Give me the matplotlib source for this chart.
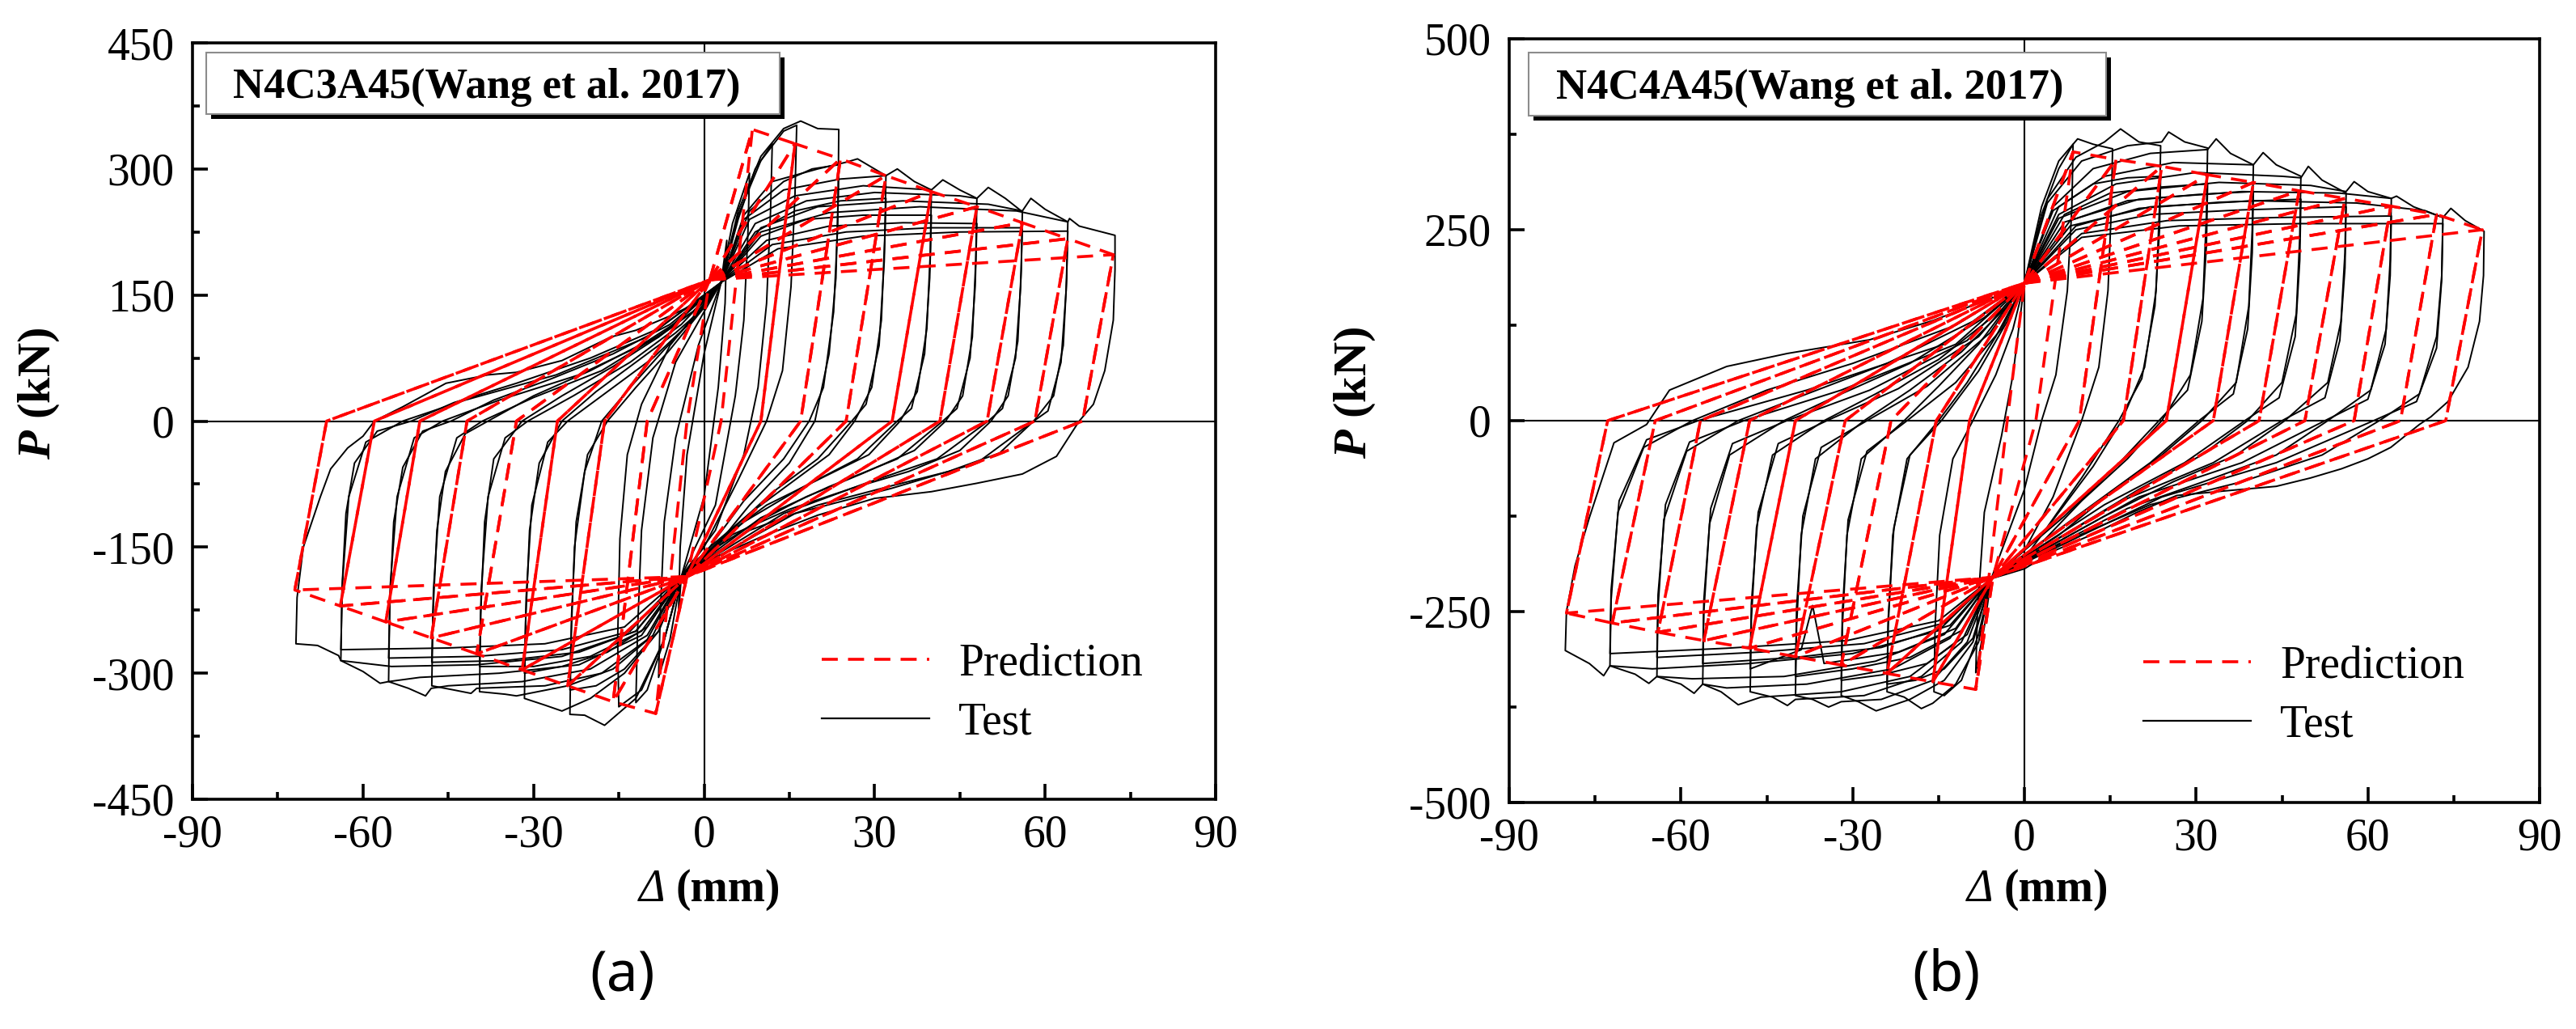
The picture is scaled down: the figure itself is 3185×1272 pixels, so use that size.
#!/usr/bin/env python3
"""
Hysteresis curves: test vs. prediction for N4C3A45 / N4C4A45 (Wang et al. 2017)
"""
import matplotlib
matplotlib.use('Agg')
import matplotlib.pyplot as plt
from matplotlib.lines import Line2D
from matplotlib.patches import Rectangle
from matplotlib.ticker import MultipleLocator

plt.rcParams['font.family'] = ['Liberation Serif', 'DejaVu Serif']
plt.rcParams['axes.unicode_minus'] = False
plt.rcParams['mathtext.fontset'] = 'custom'
plt.rcParams['mathtext.rm'] = 'Liberation Serif'
plt.rcParams['mathtext.bf'] = 'Liberation Serif:bold'
plt.rcParams['mathtext.it'] = 'Liberation Serif:italic'
plt.rcParams['mathtext.bfit'] = 'Liberation Serif:italic:bold'

# ---------------- panel (a): N4C3A45 ----------------
# test loops, first cycle at each amplitude (Δ mm, P kN)
a_test_first = [
    [(3, 165), (4, 215), (3.7, 140), (2.5, 40), (0, -90), (-4, -185), (-4.5, -230), (-4.2, -150), (-3, -40), (0, 80), (3, 165)],
    [(3, 165), (5, 235), (8, 295), (7.7, 220), (7, 120), (5.5, 30), (2, -100), (-4, -185), (-6, -260), (-8, -305),
     (-7.7, -230), (-7, -120), (-5, -20), (-1, 90), (3, 165)],
    [(3, 165), (6, 240), (9, 300), (12, 330), (11.7, 250), (11, 140), (9.5, 40), (7, -40), (2, -130), (-4, -185),
     (-7, -260), (-10, -320), (-12, -335), (-11.7, -250), (-11, -130), (-9, -20), (-5, 70), (0, 130), (3, 165)],
    [(3, 165), (6, 245), (10, 310), (14, 345), (16.3, 352), (16, 270), (15.3, 160), (13.8, 60), (11, 0), (6, -70),
     (0, -150), (-4, -185), (-7, -260), (-11, -320), (-15, -340), (-15.2, -260), (-14.8, -140), (-13.5, -40),
     (-11, 20), (-6, 90), (0, 140), (3, 165)],
    [(3, 165), (6, 250), (10, 315), (14, 348), (17, 357), (20, 348), (23.7, 347), (23.6, 270), (23.2, 170), (22, 80),
     (19.5, 0), (15, -50), (8, -100), (2, -150), (-4, -185), (-7, -260), (-12, -330), (-17.5, -362), (-21, -350),
     (-23.6, -349), (-23.4, -260), (-22.8, -150), (-21, -60), (-18, 0), (-13, 40), (-7, 85), (0, 135), (3, 165)],
    [(3, 165), (7, 245), (12, 285), (20, 300), (25, 308), (27, 312), (30, 300), (32, 292), (31.8, 220), (31.2, 120),
     (29.5, 40), (26.5, 0), (22, -40), (15, -75), (8, -110), (1, -150), (-4, -185), (-8, -250), (-14, -300),
     (-20, -330), (-25, -345), (-28, -338), (-31.6, -330), (-31.4, -240), (-30.7, -130), (-29, -50), (-25, 0),
     (-19, 35), (-12, 70), (-5, 105), (0, 135), (3, 165)],
    [(3, 165), (7, 240), (14, 275), (24, 288), (32, 292), (34, 300), (37, 285), (40, 275), (39.8, 200), (39.2, 110),
     (37.5, 35), (34.5, 0), (29, -40), (20, -70), (11, -100), (3, -140), (-4, -185), (-9, -255), (-16, -295),
     (-24, -315), (-33, -327), (-35, -325), (-39.5, -322), (-39.3, -230), (-38.6, -120), (-37, -45), (-32, 0),
     (-25, 30), (-16, 65), (-8, 100), (-1, 135), (3, 165)],
    [(3, 165), (8, 240), (16, 268), (28, 280), (40, 275), (42, 287), (45, 275), (48, 265), (47.8, 190), (47.2, 100),
     (45.5, 30), (42.5, 0), (37, -35), (28, -62), (18, -90), (8, -125), (0, -160), (-4, -185), (-10, -260),
     (-18, -300), (-28, -315), (-40, -318), (-41, -324), (-44, -320), (-47.9, -315), (-47.7, -230), (-47, -130),
     (-45.5, -60), (-42, -15), (-38, 0), (-30, 30), (-20, 60), (-10, 95), (-2, 130), (3, 165)],
    [(3, 165), (9, 235), (18, 262), (30, 272), (45, 268), (48, 265), (50, 278), (53, 265), (56, 249), (55.8, 180),
     (55.2, 95), (53.5, 30), (50.5, 0), (45, -35), (36, -60), (26, -80), (15, -105), (5, -135), (-4, -185),
     (-10, -255), (-20, -295), (-32, -310), (-45, -315), (-48, -318), (-49, -327), (-52, -318), (-55.5, -310),
     (-55.3, -220), (-54.6, -120), (-53, -55), (-49.5, -12), (-44.5, 0), (-37, 25), (-27, 50), (-16, 80),
     (-6, 115), (3, 165)],
    [(3, 165), (10, 230), (20, 255), (35, 262), (50, 258), (56, 250), (57.5, 265), (60, 252), (64, 237), (63.8, 170),
     (63.2, 90), (61.5, 30), (58, 0), (52, -38), (43, -60), (33, -77), (20, -100), (8, -130), (-4, -185),
     (-11, -255), (-22, -290), (-36, -300), (-50, -305), (-55.5, -310), (-57, -312), (-60, -298), (-63.9, -285),
     (-63.7, -200), (-63, -110), (-61.5, -50), (-57.5, -12), (-51.5, 0), (-44, 22), (-33, 45), (-20, 75),
     (-8, 110), (3, 165)],
    [(3, 165), (10, 225), (22, 248), (38, 255), (55, 250), (64, 237), (64.3, 241), (66, 232), (72.3, 221),
     (72.3, 180), (72, 120), (70.5, 60), (68.5, 20), (66, 0), (62, -42), (56, -63), (48, -74), (40, -84), (30, -92),
     (20, -112), (10, -138), (0, -168), (-4, -185), (-12, -250), (-25, -280), (-40, -290), (-55, -292),
     (-63.9, -285), (-64.3, -279), (-68, -267), (-71.8, -265), (-71.6, -210), (-70.5, -150), (-67.5, -90),
     (-65.7, -57), (-62.7, -32), (-60, -18), (-58, 0), (-53, 17), (-45.4, 45), (-38, 55), (-33, 58), (-25, 72),
     (-16.4, 100), (-12, 108), (-6, 125), (0, 145), (3, 165)],
]
# test loops, repeated cycle at the same amplitude
a_test_repeat = [
    [(3, 165), (8, 250), (14, 285), (19, 300), (23.7, 305), (23.5, 230), (22.8, 130), (21, 40), (18.5, 0), (14, -45),
     (7, -95), (1, -150), (-4, -185), (-8, -250), (-14, -295), (-19, -315), (-23.6, -320), (-23.3, -230),
     (-22.5, -120), (-20.5, -40), (-17, 0), (-12, 40), (-6, 85), (0, 135), (3, 165)],
    [(3, 165), (9, 225), (16, 250), (24, 262), (32, 265), (31.7, 190), (30.8, 90), (28.5, 20), (26, 0), (20, -45),
     (12, -85), (4, -135), (-4, -185), (-10, -245), (-17, -275), (-25, -292), (-31.6, -300), (-31.3, -210),
     (-30.3, -100), (-27.5, -25), (-24, 0), (-17, 35), (-9, 75), (-2, 120), (3, 165)],
    [(3, 165), (10, 220), (18, 240), (28, 245), (40, 245), (39.7, 170), (38.8, 80), (36.5, 15), (34, 0), (27, -45),
     (17, -80), (7, -120), (-4, -185), (-11, -250), (-20, -280), (-30, -292), (-39.5, -292), (-39.2, -200),
     (-38, -90), (-35, -20), (-31, 0), (-23, 30), (-13, 70), (-4, 115), (3, 165)],
    [(3, 165), (11, 215), (22, 232), (35, 236), (48, 235), (47.7, 160), (46.8, 75), (44.5, 15), (42, 0), (34, -45),
     (22, -78), (10, -115), (-4, -185), (-12, -250), (-22, -275), (-35, -285), (-47.9, -287), (-47.6, -200),
     (-46.5, -90), (-43.5, -20), (-39, 0), (-30, 28), (-18, 60), (-6, 110), (3, 165)],
    [(3, 165), (12, 210), (25, 225), (40, 230), (56, 230), (55.7, 160), (54.8, 75), (52.5, 15), (50, 0), (41, -45),
     (28, -75), (14, -110), (-4, -185), (-13, -250), (-25, -272), (-40, -280), (-55.5, -282), (-55.2, -195),
     (-54, -90), (-51, -20), (-46, 0), (-36, 25), (-22, 55), (-8, 100), (3, 165)],
    [(3, 165), (13, 205), (28, 220), (45, 225), (64, 226), (63.7, 155), (62.8, 70), (60.5, 12), (58, 0), (48, -50),
     (33, -80), (16, -110), (-4, -185), (-14, -245), (-28, -265), (-45, -270), (-63.9, -272), (-63.6, -190),
     (-62.5, -90), (-59.5, -25), (-53, 0), (-42, 25), (-26, 55), (-10, 100), (3, 165)],
]
# prediction: amplitudes, envelope forces, zero-force crossings, pinching points
a_amp = [8.5, 16, 24, 32, 40, 48, 56, 64, 72]
a_env_pos = [347, 330, 312, 292, 273, 255, 236, 217, 198]
a_env_neg = [-348, -334, -315, -296, -277, -258, -239, -220, -201]
a_zero_pos = [3, 10, 17, 25, 33.1, 41.5, 49.8, 58.2, 66.6]
a_zero_neg = [-3, -10, -17.5, -25.8, -33, -41.7, -50, -58, -66.4]
a_pinch_pos = (1, 168)
a_pinch_neg = (-3, -185)

# ---------------- panel (b): N4C4A45 ----------------
b_test_first = [
    [(0, 180), (3, 270), (6, 330), (8.5, 362), (8.3, 280), (7.5, 170), (5.5, 60), (3, 0), (0, -90), (-5.8, -207),
     (-7, -270), (-8.5, -330), (-8.2, -250), (-7, -120), (-4, -20), (-2, 60), (0, 180)],
    [(0, 180), (3, 280), (6, 340), (9.3, 369), (12, 362), (15.4, 356), (15.2, 280), (14.6, 170), (13, 70), (10, 0),
     (5, -100), (0, -170), (-5.8, -207), (-8, -280), (-11, -340), (-14, -360), (-15.8, -355), (-15.6, -270),
     (-14.8, -150), (-12.5, -50), (-9, 0), (-5, 60), (-2, 120), (0, 180)],
    [(0, 180), (4, 290), (9, 345), (14, 365), (16.8, 382), (20, 365), (23.8, 360), (23.6, 280), (23, 170), (21, 70),
     (17, 0), (12, -60), (5, -130), (0, -180), (-5.8, -207), (-8, -290), (-12, -345), (-16, -370), (-18, -377),
     (-21, -362), (-24, -355), (-23.8, -270), (-23, -150), (-20.5, -50), (-15, 0), (-10, 50), (-5, 110), (0, 180)],
    [(0, 180), (4, 285), (10, 340), (18, 360), (24, 365), (25.2, 378), (28, 365), (32, 357), (31.8, 270), (31.2, 160),
     (29, 60), (24, 0), (18, -50), (10, -105), (3, -160), (-5.8, -207), (-9, -290), (-14, -340), (-20, -365),
     (-25.9, -380), (-29, -368), (-32, -360), (-31.8, -270), (-31, -150), (-28.5, -50), (-21, 0), (-15, 45),
     (-8, 100), (0, 180)],
    [(0, 180), (5, 280), (12, 330), (22, 350), (32, 355), (33.5, 369), (36, 350), (40, 335), (39.8, 250), (39.2, 150),
     (37, 50), (31, 0), (24, -45), (15, -95), (6, -150), (-5.8, -207), (-10, -290), (-16, -340), (-25, -365),
     (-32, -368), (-34.2, -375), (-37, -365), (-40, -360), (-39.8, -270), (-39, -150), (-36.5, -50), (-28, 0),
     (-20, 40), (-11, 90), (-3, 150), (0, 180)],
    [(0, 180), (5, 275), (14, 320), (26, 338), (40, 335), (41.7, 351), (44, 335), (48.3, 320), (48.1, 240),
     (47.5, 140), (45, 50), (39, 0), (31, -45), (20, -90), (9, -140), (-5.8, -207), (-11, -290), (-18, -335),
     (-28, -360), (-40, -365), (-41.4, -373), (-44, -362), (-47.9, -355), (-47.7, -260), (-46.8, -140), (-44, -45),
     (-35, 0), (-26, 35), (-15, 80), (-4, 145), (0, 180)],
    [(0, 180), (6, 270), (16, 310), (30, 325), (45, 320), (48.3, 318), (49.6, 333), (52, 315), (56.2, 298), (56, 220),
     (55.3, 130), (53, 50), (45.5, 0), (37, -45), (26, -80), (14, -125), (-5.8, -207), (-12, -290), (-20, -335),
     (-32, -355), (-46, -362), (-50, -372), (-53, -355), (-56.2, -345), (-56, -250), (-55, -135), (-51.5, -45),
     (-42, 0), (-32, 35), (-20, 75), (-7, 135), (0, 180)],
    [(0, 180), (6, 265), (18, 300), (34, 312), (50, 308), (56.2, 300), (57.6, 313), (60, 300), (64.1, 291),
     (63.9, 210), (63.2, 120), (60.5, 40), (53, 0), (44, -45), (32, -78), (18, -115), (5, -165), (-5.8, -207),
     (-13, -285), (-23, -325), (-38, -345), (-52, -350), (-56.2, -345), (-57.7, -357), (-60, -345), (-64.2, -335),
     (-64, -245), (-63, -130), (-59, -40), (-50, 0), (-38, 35), (-24, 75), (-9, 130), (0, 180)],
    [(0, 180), (7, 260), (20, 290), (38, 300), (55, 298), (64.1, 291), (65, 294), (68, 280), (73.1, 266),
     (72.9, 190), (72, 110), (69, 35), (62, 0), (52, -45), (38, -80), (22, -110), (8, -155), (-5.8, -207),
     (-14, -280), (-26, -315), (-42, -335), (-58, -338), (-64.2, -335), (-65.6, -344), (-68, -332), (-72.4, -321),
     (-72.2, -235), (-71, -120), (-66.5, -35), (-58, 0), (-45, 40), (-30, 75), (-12, 125), (0, 180)],
    [(0, 180), (8, 255), (22, 280), (40, 288), (58, 285), (70, 275), (73.1, 266), (74.5, 278), (77, 262),
     (80.3, 248), (80.2, 190), (79.5, 130), (77.5, 70), (74, 25), (71, 5), (69, -5), (64, -35), (60, -50),
     (55.4, -63), (50, -75), (44, -86), (35, -92), (26.6, -98), (19.4, -121), (12.2, -148), (5, -171), (0, -194),
     (-5.8, -207), (-15, -275), (-30, -305), (-48, -318), (-65, -325), (-72.4, -321), (-73.5, -334), (-76, -318),
     (-80.2, -301), (-80, -250), (-78.5, -190), (-76, -127), (-71.7, -29), (-66, -5), (-62, 40), (-52, 71),
     (-41.4, 88), (-27, 106), (-16, 131), (-2.4, 170), (0, 180)],
]
b_test_repeat = [
    [(0, 180), (6, 280), (12, 310), (18, 318), (23.8, 320), (23.6, 250), (22.8, 150), (20.5, 55), (16.5, 0),
     (10, -75), (3, -150), (-5.8, -207), (-9, -285), (-14, -325), (-19, -340), (-24, -345), (-23.8, -260),
     (-22.8, -140), (-20, -45), (-14.5, 0), (-8, 65), (-3, 130), (0, 180)],
    [(0, 180), (7, 270), (15, 298), (24, 306), (32, 310), (31.8, 230), (31, 130), (28.5, 40), (23.5, 0), (16, -60),
     (7, -125), (-5.8, -207), (-10, -280), (-17, -318), (-25, -333), (-32, -340), (-31.8, -250), (-30.8, -130),
     (-27.5, -40), (-20.5, 0), (-12, 50), (-4, 120), (0, 180)],
    [(0, 180), (8, 262), (18, 288), (30, 296), (40, 300), (39.8, 220), (39, 120), (36.5, 35), (30.5, 0), (22, -55),
     (11, -115), (-5.8, -207), (-11, -275), (-20, -310), (-30, -325), (-40, -335), (-39.8, -245), (-38.7, -125),
     (-35.5, -35), (-27.5, 0), (-17, 45), (-6, 115), (0, 180)],
    [(0, 180), (9, 255), (20, 278), (34, 286), (48.3, 290), (48.1, 210), (47.3, 110), (44.5, 30), (38.5, 0),
     (28, -55), (14, -110), (-5.8, -207), (-12, -272), (-22, -303), (-35, -318), (-37, -242), (-39, -300),
     (-47.9, -325), (-47.7, -240), (-46.5, -120), (-43, -30), (-34.5, 0), (-22, 42), (-8, 110), (0, 180)],
    [(0, 180), (9, 250), (22, 270), (38, 276), (56.2, 280), (56, 200), (55.1, 105), (52.5, 30), (45, 0), (33, -55),
     (17, -105), (-5.8, -207), (-13, -268), (-25, -297), (-40, -310), (-56.2, -318), (-56, -235), (-54.8, -115),
     (-51, -30), (-41.5, 0), (-27, 40), (-10, 105), (0, 180)],
    [(0, 180), (10, 245), (25, 262), (44, 266), (64.1, 268), (63.9, 190), (63, 100), (60, 28), (52.5, 0), (38, -55),
     (20, -100), (-5.8, -207), (-14, -265), (-28, -292), (-46, -303), (-64.2, -310), (-64, -228), (-62.7, -110),
     (-58.5, -28), (-49, 0), (-32, 40), (-12, 100), (0, 180)],
    [(0, 180), (10, 240), (27, 255), (48, 258), (73.1, 258), (72.9, 185), (72, 95), (68.5, 25), (61, 0), (44, -55),
     (24, -100), (-5.8, -207), (-15, -262), (-31, -288), (-52, -298), (-72.4, -305), (-72.2, -222), (-70.8, -105),
     (-66, -25), (-57, 0), (-38, 40), (-14, 100), (0, 180)],
]
b_amp = [8.5, 16, 24, 32, 40, 48, 56, 64, 72, 80]
b_env_pos = [352, 342, 333, 322, 312, 301, 291, 281, 270, 250]
b_env_neg = [-352, -342, -331, -320, -309, -298, -288, -277, -265, -252]
b_zero_pos = [2, 9.6, 17.3, 24.8, 33, 41, 49, 57.6, 65.7, 73.6]
b_zero_neg = [-3, -9.6, -15.4, -23.3, -31.3, -40, -48, -56.6, -64.5, -72.8]
b_pinch_pos = (0, 180)
b_pinch_neg = (-5.5, -205)

RED_DASH = (0, (5.5, 3.5))


def pred_loops(amp, env_pos, env_neg, zero_pos, zero_neg, pp, pn):
    """piecewise-linear predicted loops: first and repeated cycle per amplitude"""
    loops = []
    for i, a in enumerate(amp):
        for first in ([True, False] if i > 0 else [True]):
            xs, ys = [pp[0]], [pp[1]]
            if first and i > 0:
                xs.append(amp[i - 1]); ys.append(env_pos[i - 1])
            xs += [a, zero_pos[i], pn[0]]
            ys += [env_pos[i], 0, pn[1]]
            if first and i > 0:
                xs.append(-amp[i - 1]); ys.append(env_neg[i - 1])
            xs += [-a, zero_neg[i], pp[0]]
            ys += [env_neg[i], 0, pp[1]]
            loops.append((xs, ys))
    return loops


def draw_panel(ax, test_loops, pred, ylim, ystep, title, box, text_xy):
    ax.axhline(0, color='black', lw=1.5, zorder=1)
    ax.axvline(0, color='black', lw=1.5, zorder=1)

    for loop in test_loops:
        xs, ys = zip(*loop)
        ax.plot(xs, ys, color='black', lw=1.4, zorder=2)
    for xs, ys in pred:
        ax.plot(xs, ys, color='red', lw=2.6, ls=RED_DASH, zorder=3)

    ax.set_xlim(-90, 90)
    ax.set_ylim(-ylim, ylim)
    ax.xaxis.set_major_locator(MultipleLocator(30))
    ax.xaxis.set_minor_locator(MultipleLocator(15))
    ax.yaxis.set_major_locator(MultipleLocator(ystep))
    ax.yaxis.set_minor_locator(MultipleLocator(ystep / 2))
    ax.tick_params(which='both', direction='in', top=False, right=False, width=2.6, labelsize=40)
    ax.tick_params(which='major', length=13.5)
    ax.tick_params(which='minor', length=6.5)
    ax.tick_params(axis='x', pad=13)
    ax.tick_params(axis='y', pad=16)
    for sp in ax.spines.values():
        sp.set_linewidth(2.6)

    ax.set_ylabel(r'$\mathbfit{P}$ (kN)', fontsize=42, fontweight='bold')
    ax.yaxis.set_label_coords(-0.128, 0.537)

    # title box with drop shadow
    x0, y0, x1, y1 = box
    sx, sy = 6 / 1265, 6 / 935
    ax.add_patch(Rectangle((x0 + sx, y0 - sy), x1 - x0, y1 - y0, transform=ax.transAxes,
                           facecolor='black', edgecolor='none', zorder=5, clip_on=False))
    ax.add_patch(Rectangle((x0, y0), x1 - x0, y1 - y0, transform=ax.transAxes,
                           facecolor='white', edgecolor='#8c8c8c', lw=1.5, zorder=6, clip_on=False))
    ax.text(text_xy[0], text_xy[1], title, transform=ax.transAxes, fontsize=38,
            fontweight='bold', ha='left', va='baseline', zorder=7)

    handles = [Line2D([], [], color='red', lw=2.6, ls=RED_DASH),
               Line2D([], [], color='black', lw=1.6)]
    ax.legend(handles, ['Prediction', 'Test'], loc='center left', bbox_to_anchor=(0.615, 0.14),
              frameon=False, fontsize=40, handlelength=2.4, handletextpad=0.65,
              labelspacing=0.38, borderpad=0, borderaxespad=0)


def main():
    fig = plt.figure(figsize=(31.85, 12.72), dpi=100)
    ax_a = fig.add_axes([238 / 3185, 284 / 1272, 1265 / 3185, 935 / 1272])
    ax_b = fig.add_axes([1866 / 3185, 280 / 1272, 1274 / 3185, 944 / 1272])

    draw_panel(ax_a, a_test_first + a_test_repeat,
               pred_loops(a_amp, a_env_pos, a_env_neg, a_zero_pos, a_zero_neg, a_pinch_pos, a_pinch_neg),
               450, 150, 'N4C3A45(Wang et al. 2017)',
               (0.0134, 0.906, 0.574, 0.987), (0.0395, 0.9273))
    draw_panel(ax_b, b_test_first + b_test_repeat,
               pred_loops(b_amp, b_env_pos, b_env_neg, b_zero_pos, b_zero_neg, b_pinch_pos, b_pinch_neg),
               500, 250, 'N4C4A45(Wang et al. 2017)',
               (0.0188, 0.899, 0.579, 0.982), (0.0455, 0.9216))

    # x labels: italic Δ + bold (mm)
    for xs in (822, 2464):
        fig.text(xs / 3185, 0.1242, 'Δ', fontsize=40, style='italic', ha='right', va='baseline')
        fig.text((xs + 13) / 3185, 0.1242, '(mm)', fontsize=40, fontweight='bold', ha='left', va='baseline')

    fig.text(769 / 3185, 1 - 1207 / 1272, '(a)', fontsize=50, family='Noto Sans', ha='center', va='center')
    fig.text(2406 / 3185, 1 - 1207 / 1272, '(b)', fontsize=50, family='Noto Sans', ha='center', va='center')

    fig.savefig('out.png', dpi=100)
    plt.close(fig)


if __name__ == '__main__':
    main()
